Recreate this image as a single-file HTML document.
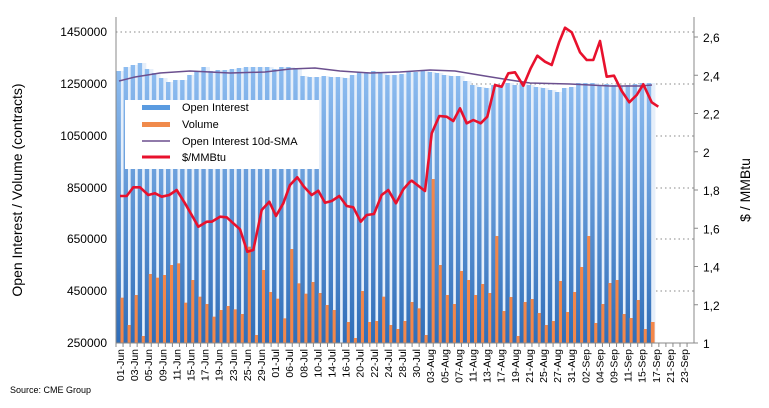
<!DOCTYPE html>
<html><head><meta charset="utf-8">
<style>
html,body{margin:0;padding:0;background:#fff;}
svg{display:block;font-family:"Liberation Sans",Arial,sans-serif;}
</style></head>
<body>
<svg id="s" width="769" height="408" viewBox="0 0 769 408" xmlns="http://www.w3.org/2000/svg">
<defs>
<linearGradient id="bg" x1="0" y1="1" x2="0" y2="0">
<stop offset="0" stop-color="#2f6db8"/><stop offset="1" stop-color="#8dbcf0"/>
</linearGradient>
</defs>
<g id="grid"></g>
<g id="bars"></g>
<g id="lines"></g>
<g id="axes"></g>
<rect x="125" y="100" width="194" height="69" fill="#fff"/>
<rect x="142" y="105" width="28" height="5" fill="#5a9be0"/>
<rect x="142" y="122" width="28" height="5" fill="#f08a4b"/>
<line x1="142" y1="141" x2="170" y2="141" stroke="#6b4f8e" stroke-width="1.5"/>
<line x1="142" y1="157" x2="170" y2="157" stroke="#e8112d" stroke-width="3"/>
<g font-size="11" fill="#000">
<text x="182" y="111">Open Interest</text>
<text x="182" y="128">Volume</text>
<text x="182" y="145">Open Interest 10d-SMA</text>
<text x="182" y="161">$/MMBtu</text>
</g>
<text transform="translate(22,190) rotate(-90)" font-size="14" text-anchor="middle">Open Interest / Volume (contracts)</text>
<text transform="translate(750,190) rotate(-90)" font-size="14" text-anchor="middle">$ / MMBtu</text>
<text x="10" y="393" font-size="9">Source: CME Group</text>
</svg>
<script>
var NS="http://www.w3.org/2000/svg";
function el(p,t,a,txt){var e=document.createElementNS(NS,t);for(var k in a)e.setAttribute(k,a[k]);if(txt!=null)e.textContent=txt;document.getElementById(p).appendChild(e);return e;}
// grid & left labels
var L=[[1450000,32],[1250000,84],[1050000,136],[850000,188],[650000,239],[450000,291],[250000,343]];
L.forEach(function(v){
 if(v[1]<343) el("grid","line",{x1:116,x2:694,y1:v[1],y2:v[1],stroke:"#888","stroke-dasharray":"1.5,3","stroke-width":1});
 el("axes","text",{x:107,y:v[1]+4,"font-size":12,"text-anchor":"end"},v[0]);
});
var R=["1","1,2","1,4","1,6","1,8","2","2,2","2,4","2,6"];
R.forEach(function(t,i){var y=343-i*38.25;
 el("axes","line",{x1:694,x2:698,y1:y,y2:y,stroke:"#888"});
 el("axes","text",{x:703,y:y+5,"font-size":12},t);});
el("axes","line",{x1:116,x2:116,y1:17,y2:343,stroke:"#888"});
el("axes","line",{x1:694,x2:694,y1:17,y2:343,stroke:"#888"});
el("axes","line",{x1:116,x2:694,y1:343,y2:343,stroke:"#888"});
// x labels
var labs="01-Jun 03-Jun 05-Jun 09-Jun 11-Jun 15-Jun 17-Jun 19-Jun 23-Jun 25-Jun 29-Jun 01-Jul 06-Jul 08-Jul 10-Jul 14-Jul 16-Jul 20-Jul 22-Jul 24-Jul 28-Jul 30-Jul 03-Aug 05-Aug 07-Aug 11-Aug 13-Aug 17-Aug 19-Aug 21-Aug 25-Aug 27-Aug 31-Aug 02-Sep 04-Sep 09-Sep 11-Sep 15-Sep 17-Sep 21-Sep 23-Sep".split(" ");
var pitch=7.05;
for(var c=0;c<82;c++){var x=116+pitch*c;el("axes","line",{x1:x,x2:x,y1:343,y2:347,stroke:"#888"});}
labs.forEach(function(t,k){var x=120+2*pitch*k;
 el("axes","text",{transform:"translate("+(x+4)+",349) rotate(-90)","font-size":10.5,"text-anchor":"end"},t);});
// OI tops
var oi=[71,67,65,63,69,73,78,82,80,80,75,72,67,71,70,70,69,68,67,67,67,67,69,67,67,68,76,77,77,76,77,77,78,75,72,72,71,72,75,75,
74,72,72,71,72,73,75,76,76,81,85,87,88,85,85,83,85,83,85,87,88,90,92,88,87,83,83,83,85,84,85,86,85,84,83,83];
var vol=[473,555,465,588,402,413,405,375,370,488,420,470,492,530,510,498,508,522,320,585,390,456,476,535,327,430,461,426,459,495,510,640,546,594,453,546,543,470,555,567,543].map(function(z){return 140+z/3;});
var vol2=[486,505,585,117,375,465,492,393,420,465,432,459,288,513,471,588,486,477,519,555,543,423,516,456,381,288,549,492,429,420,522,534,480,567,546].map(function(z){return 140+z/3;});
vol=vol.concat(vol2);
var n=vol.length, x0=121.7, dp=(652-121.7)/(n-1);
for(var i=0;i<n;i++){var xc=x0+dp*i;
 var t=oi[Math.min(i,oi.length-1)];
 el("bars","rect",{x:xc-2.2,y:t,width:5.6,height:343-t,fill:"#e6effa"});
 el("bars","rect",{x:xc-5.2,y:t,width:4.4,height:343-t,fill:"url(#bg)"});
 if(vol[i]<343) el("bars","rect",{x:xc-1.2,y:vol[i],width:3.8,height:343-vol[i],fill:"#f3874a"});
}
// SMA
var sma=[[119,81],[135,77],[160,73],[190,71],[230,73],[265,72],[290,69],[315,68],[340,71],[370,73],[400,72],[430,70],[455,71],[485,76],[510,80],[530,83],[570,84],[610,86],[640,86],[652,85]];
el("lines","polyline",{points:sma.map(function(p){return p.join(",")}).join(" "),fill:"none",stroke:"#6b4f8e","stroke-width":1.5});
// price
var z4=[[30,168],[50,168],[70,142],[90,142],[115,165],[135,160],[155,170],[178,165],[200,150],[225,190],[245,225],[265,260],[290,245],[305,245],[330,230],[350,232],[370,250],[390,268],[412,335],[430,330],[455,210],[478,185],[498,228],[520,190],[540,135],[562,112],[582,140],[605,165],[625,152],[645,188],[665,183],[688,168],[710,198],[730,202],[752,245],[770,225],[792,222],[815,165],[835,150],[858,190],[880,148],[900,125]];
var z5=[[35,497],[75,528],[95,355],[118,303],[140,305],[160,318],[180,280],[200,325],[220,315],[242,325],[262,305],[285,210],[305,215],[325,175],[345,172],[370,212],[392,160],[412,122],[435,140],[455,150],[478,80],[495,38],[515,52],[540,112],[560,135],[580,135],[600,78],[620,185],[642,182],[665,228],[688,262],[710,240],[730,208],[755,262],[775,275]];
var pts=z4.map(function(p){return [110+p[0]/3,140+p[1]/3];}).concat(z5.map(function(p){return [400+p[0]/3,15+p[1]/3];}));
el("lines","polyline",{points:pts.map(function(p){return p[0].toFixed(1)+","+p[1].toFixed(1)}).join(" "),fill:"none",stroke:"#e8112d","stroke-width":2.6,"stroke-linejoin":"round"});
</script>
</body></html>
